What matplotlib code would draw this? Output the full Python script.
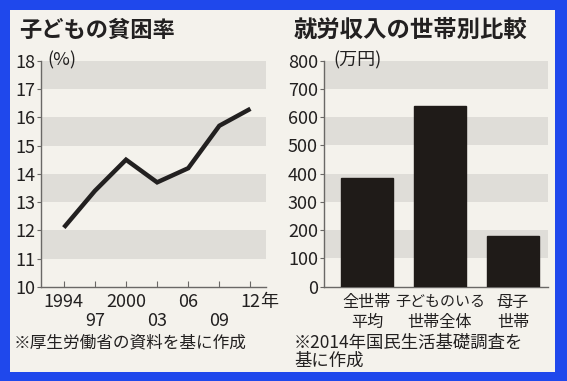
import matplotlib
matplotlib.use("Agg")
import matplotlib.pyplot as plt
from matplotlib.patches import Rectangle

plt.rcParams['font.family'] = ['Noto Sans CJK JP', 'DejaVu Sans']

# Data
years = [1994, 1997, 2000, 2003, 2006, 2009, 2012]
poverty_rate = [12.1, 13.4, 14.5, 13.7, 14.2, 15.7, 16.3]
year_labels_top = ['1994', '2000', '06', '12']
year_labels_top_pos = [1994, 2000, 2006, 2012]
year_labels_bot = ['97', '03', '09']
year_labels_bot_pos = [1997, 2003, 2009]
left_yticks = [10, 11, 12, 13, 14, 15, 16, 17, 18]

categories_line1 = ['全世帯', '子どものいる', '母子']
categories_line2 = ['平均', '世帯全体', '世帯']
income = [384, 640, 179]
right_yticks = [0, 100, 200, 300, 400, 500, 600, 700, 800]

W, H = 567, 381
fig = plt.figure(figsize=(W / 100, H / 100), dpi=100)
fig.patch.set_facecolor('#1f48ec')
paper = '#f4f2ec'
band = '#dfddd8'
ink = '#222020'
axis_col = '#6a6866'
TS = 13

fig.add_artist(Rectangle((10 / W, 1 - 372 / H), 545 / W, 362 / H,
                         transform=fig.transFigure, facecolor=paper,
                         edgecolor='none', zorder=0))


def px_axes(x0, y0, x1, y1):
    return fig.add_axes([x0 / W, 1 - y1 / H, (x1 - x0) / W, (y1 - y0) / H])


def fy(ypx):
    return 1 - ypx / H


# ---------- Left chart ----------
axL = px_axes(41, 60.7, 266, 287)
axL.set_facecolor('none')
axL.set_xlim(1991.8, 2013.5)
axL.set_ylim(10, 18)
for lo in [11, 13, 15, 17]:
    axL.axhspan(lo, lo + 1, color=band, lw=0, zorder=0)
axL.plot(years, poverty_rate, color=ink, lw=3.2, solid_capstyle='butt',
         solid_joinstyle='miter', zorder=3)
for s in ['top', 'right']:
    axL.spines[s].set_visible(False)
for s in ['left', 'bottom']:
    axL.spines[s].set_color(axis_col)
    axL.spines[s].set_linewidth(1.0)
axL.set_yticks(left_yticks)
axL.set_yticklabels([str(v) for v in left_yticks], fontsize=TS, color=ink)
axL.tick_params(axis='y', direction='out', length=3, width=0.8,
                color=axis_col, pad=1)
axL.set_xticks(years)
axL.set_xticklabels([])
axL.tick_params(axis='x', direction='in', length=4, width=0.8,
                color=axis_col)
xt = axL.get_xaxis_transform()
for lab, pos in zip(year_labels_top, year_labels_top_pos):
    axL.text(pos, -0.025, lab, transform=xt, ha='center', va='top',
             fontsize=TS, color=ink)
axL.annotate('年', xy=(2012, -0.025), xycoords=xt, xytext=(7, 0),
             textcoords='offset points', ha='left', va='top',
             fontsize=TS, color=ink)
for lab, pos in zip(year_labels_bot, year_labels_bot_pos):
    axL.text(pos, -0.11, lab, transform=xt, ha='center', va='top',
             fontsize=TS, color=ink)
axL.text(1992.4, 18.0, '(%)', ha='left', va='center', fontsize=TS,
         color=ink)

fig.text(19 / W, fy(30), '子どもの貧困率', fontsize=16,
         fontweight='bold', color=ink, ha='left', va='center')
fig.text(14 / W, fy(343), '※厚生労働省の資料を基に作成', fontsize=12,
         color=ink, ha='left', va='center')

# ---------- Right chart ----------
axR = px_axes(323.5, 60.7, 548, 286.7)
axR.set_facecolor('none')
axR.set_xlim(-0.595, 2.48)
axR.set_ylim(0, 800)
for lo in [100, 300, 500, 700]:
    axR.axhspan(lo, lo + 100, color=band, lw=0, zorder=0)
xpos = list(range(len(income)))
axR.bar(xpos, income, width=0.71, color='#1f1b18',
        edgecolor='#1f1b18', zorder=3)
for s in ['top', 'right']:
    axR.spines[s].set_visible(False)
for s in ['left', 'bottom']:
    axR.spines[s].set_color(axis_col)
    axR.spines[s].set_linewidth(1.0)
axR.set_yticks(right_yticks)
axR.set_yticklabels([str(v) for v in right_yticks], fontsize=TS, color=ink)
axR.tick_params(axis='y', direction='out', length=3, width=0.8,
                color=axis_col, pad=1)
axR.set_xticks(xpos)
axR.set_xticklabels([])
axR.tick_params(axis='x', length=0)
xtR = axR.get_xaxis_transform()
for i, (l1, l2) in enumerate(zip(categories_line1, categories_line2)):
    axR.text(i, -0.068, l1, transform=xtR, ha='center', va='center',
             fontsize=10.8 if len(l1) > 4 else 11.6, color=ink)
    axR.text(i, -0.158, l2, transform=xtR, ha='center', va='center',
             fontsize=11.6, color=ink)
axR.text(-0.46, 800, '(万円)', ha='left', va='center', fontsize=TS,
         color=ink)

fig.text(294 / W, fy(30), '就労収入の世帯別比較', fontsize=16.8,
         fontweight='bold', color=ink, ha='left', va='center')
fig.text(294 / W, fy(343), '※2014年国民生活基礎調査を', fontsize=12.5,
         color=ink, ha='left', va='center')
fig.text(294 / W, fy(361), '基に作成', fontsize=12.5,
         color=ink, ha='left', va='center')

fig.savefig('out.png', dpi=100, facecolor=fig.get_facecolor())
